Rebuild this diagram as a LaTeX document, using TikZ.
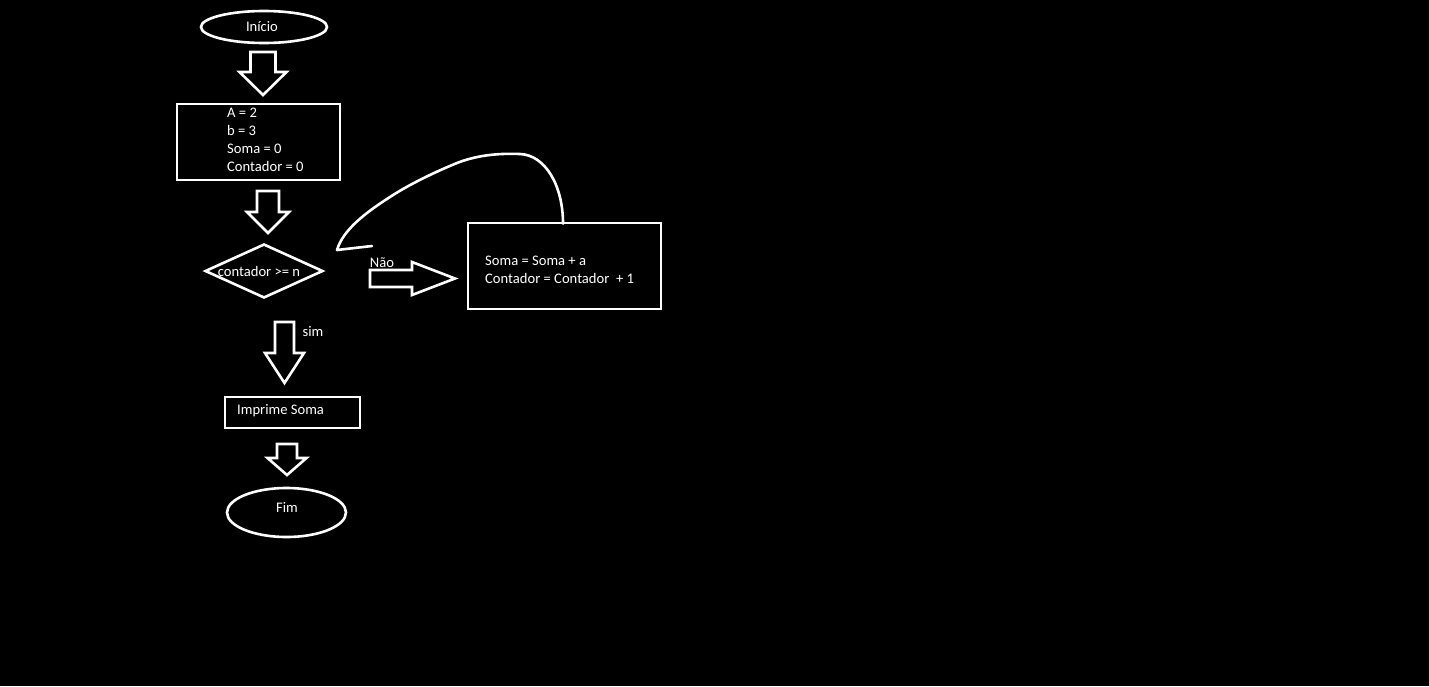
\documentclass[tikz,border=0pt]{standalone}
\usepackage{fontspec}
\setmainfont{Carlito}
\usetikzlibrary{shapes.geometric}

\tikzset{
	flow/.style={draw=white,line width=2.6pt},
	term/.style={flow,ellipse,inner sep=0pt},
	procbox/.style={flow,rectangle,inner sep=0pt},
	decide/.style={flow,diamond,inner sep=0pt},
	txt/.style={text=white,inner sep=0pt,font=\fontsize{14.6}{18}\selectfont,align=left},
	blk/.style={draw=white,line width=2.6pt,line join=miter}
}

% vertical block arrow: x, top, shaft half, head half, head y, tip y
\newcommand{\vblock}[6]{%
	\draw[blk] (#1-#3,#2) -- (#1+#3,#2) -- (#1+#3,#5) -- (#1+#4,#5)
		-- (#1,#6) -- (#1-#4,#5) -- (#1-#3,#5) -- cycle;}

\begin{document}
\begin{tikzpicture}[x=1pt,y=-1pt]
	\fill[black] (0,0) rectangle (1429,686);
	\useasboundingbox (0,0) rectangle (1429,686);

	% nodes
	\node[term,minimum width=126pt,minimum height=32pt] (inicio) at (264,27) {};
	\node[txt] at (262,26.5) {Início};

	\node[procbox,minimum width=163pt,minimum height=76pt] (init) at (258.5,142) {};
	\node[txt,anchor=west] at (227,140) {A = 2\\b = 3\\Soma = 0\\Contador = 0};

	\node[decide,minimum width=118pt,minimum height=54pt] (test) at (264,271) {};
	\node[txt] at (259,271) {contador >= n};

	\node[procbox,minimum width=193pt,minimum height=86pt] (soma) at (564.5,266) {};
	\node[txt,anchor=west] at (485,270) {Soma = Soma + a\\Contador = Contador~ + 1};

	\node[procbox,minimum width=135pt,minimum height=31pt] (imprime) at (292.5,412.5) {};
	\node[txt,anchor=west] at (237,411) {Imprime Soma};

	\node[term,minimum width=119pt,minimum height=49pt] (fim) at (286.5,512.5) {};
	\node[txt] at (287,507) {Fim};

	% block arrows
	\vblock{263}{52}{12.5}{23.5}{72}{95}
	\vblock{268}{191}{11}{21}{212}{233}
	\vblock{284.5}{322}{9.5}{19.5}{353}{383}
	\vblock{287}{444}{10}{19.5}{458}{475}
	\draw[blk] (370,270) -- (412,270) -- (412,262) -- (455,278.5)
		-- (412,295) -- (412,287) -- (370,287) -- cycle;

	\node[txt] (nao) at (382,263) {Não};
	\node[txt] (sim) at (313,332) {sim};

	% loop back
	\coordinate (loop) at (337,250);
	\coordinate (barb) at (372,246);
	\draw[flow,line cap=round,line join=round] ([xshift=-1.5pt,yshift=-2pt]soma.north)
		.. controls (563,185) and (545,155) .. (520,154)
		.. controls (495,153) and (475,156) .. (457,163)
		.. controls (430,174) and (405,187) .. (390,197)
		.. controls (365,213) and (343,230) .. (loop) -- (barb);
\end{tikzpicture}
\end{document}
